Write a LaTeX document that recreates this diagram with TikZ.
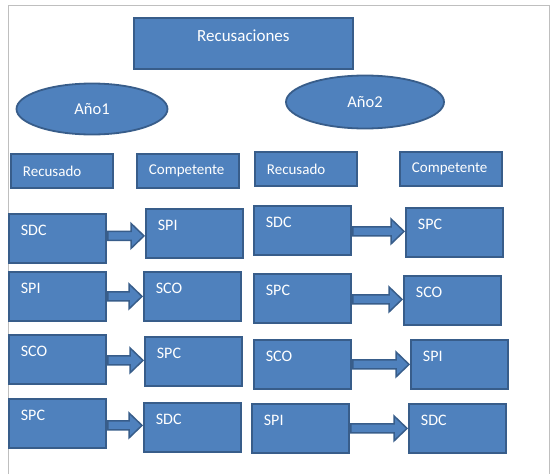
\documentclass[tikz,border=0pt]{standalone}
\usepackage{fontspec}
\setmainfont{Carlito}
\usepackage{xcolor}
\usetikzlibrary{calc,shapes}
\definecolor{boxfill}{HTML}{4F81BD}
\definecolor{boxline}{HTML}{385D8A}

\begin{document}
\begin{tikzpicture}[x=1pt,y=-1pt,
box/.style={draw=boxline,fill=boxfill,line width=1.8pt,text=white,
	font=\fontsize{15}{15}\selectfont},
hd/.style={box,anchor=north west,align=left,text width=78pt,inner xsep=12pt,
	inner ysep=0pt,minimum height=34pt},
cell/.style={box,anchor=north west,align=left,text width=73pt,inner xsep=12pt,
	inner ysep=11pt,text height=10.5pt,text depth=16.5pt,
	font=\fontsize{16}{16}\selectfont},
yr/.style={box,ellipse,inner sep=0pt,font=\fontsize{16.5}{16.5}\selectfont},
arr/.style={fill=boxfill,draw=boxline,line width=1.5pt},
frame/.style={draw=black!25,line width=1pt}]
	\useasboundingbox (0,0) rectangle (553,474);
	\draw[frame] (8,474) -- (8,5) -- (549,5) -- (549,474);

	\node[box,anchor=north west,align=center,text width=207pt,inner xsep=6pt,
		inner ysep=12pt,text height=12pt,text depth=15pt,
		font=\fontsize{17}{17}\selectfont] (rec) at (133,17) {Recusaciones};

	\node[yr,minimum width=151pt,minimum height=51pt] (a1) at (92,109) {Año1};
	\node[yr,minimum width=158pt,minimum height=53pt] (a2) at (365,102) {Año2};

	\node[hd] (h1) at (10,153) {Recusado};
	\node[hd] (h2) at (136,153) {Competente};
	\node[hd] (h3) at (254,151) {Recusado};
	\node[hd] (h4) at (399,151) {Competente};

	% año 1
	\node[cell] (l1) at (8,213) {SDC};
	\node[cell] (l2) at (8,271) {SPI};
	\node[cell] (l3) at (8,334) {SCO};
	\node[cell] (l4) at (8,398) {SPC};
	\node[cell] (m1) at (145,208) {SPI};
	\node[cell] (m2) at (143,271) {SCO};
	\node[cell] (m3) at (144,336) {SPC};
	\node[cell] (m4) at (143,402) {SDC};
	% año 2
	\node[cell] (r1) at (253,205) {SDC};
	\node[cell] (r2) at (253,273) {SPC};
	\node[cell] (r3) at (253,339) {SCO};
	\node[cell] (r4) at (251,403) {SPI};
	\node[cell] (s1) at (405,207) {SPC};
	\node[cell] (s2) at (403,275) {SCO};
	\node[cell] (s3) at (410,339) {SPI};
	\node[cell] (s4) at (408,403) {SDC};

	\foreach \a/\b in {l1/m1,l2/m2,l3/m3,l4/m4,r1/s1,r2/s2,r3/s3,r4/s4} {
		\filldraw[arr] let \p1=(\a.east), \p2=(\b.west),
			\p3=($(\a.east)!0.5!(\b.west)$) in
			(\x1+1pt,\y3+4.5pt) -- (\x2-14pt,\y3+4.5pt) -- (\x2-14pt,\y3+12.5pt)
			-- (\x2-1pt,\y3) -- (\x2-14pt,\y3-12.5pt) -- (\x2-14pt,\y3-4.5pt)
			-- (\x1+1pt,\y3-4.5pt) -- cycle;
	}
\end{tikzpicture}
\end{document}
